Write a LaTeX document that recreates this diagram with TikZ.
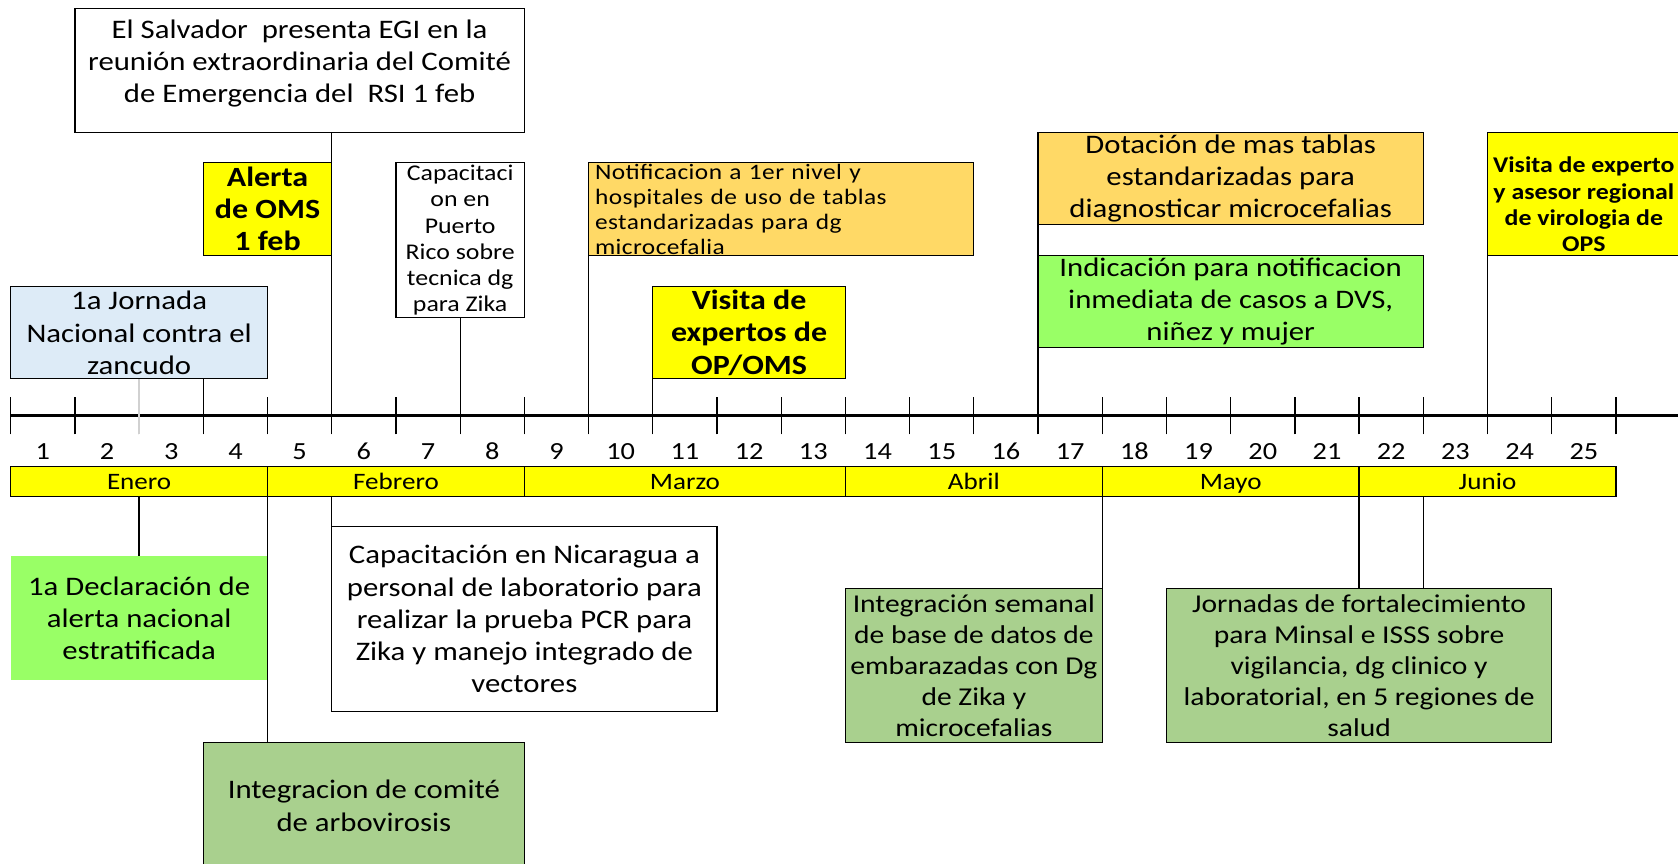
\documentclass[tikz,border=0pt]{standalone}
\usepackage{fontspec}
\setmainfont{Carlito}[FakeStretch=1.15]
\newfontfamily\notefamily{Carlito}[FakeStretch=1.15, LetterSpace=2.0]
\definecolor{yel}{HTML}{FFFF00}
\definecolor{org}{HTML}{FFD966}
\definecolor{lblue}{HTML}{DDEBF7}
\definecolor{lgreen}{HTML}{99FF66}
\definecolor{ogreen}{HTML}{A9D08E}
\newcommand\fbig{\fontsize{12.5}{15}\selectfont}
\newcommand\fbold{\fontsize{13}{15}\selectfont\bfseries}
\newcommand\fsbold{\fontsize{10.5}{12.25}\selectfont\bfseries}
\newcommand\fsm{\fontsize{10.5}{12.25}\selectfont}
\newcommand\fnote{\notefamily\fontsize{10.3}{11.65}\selectfont}
\newcommand\fmid{\fontsize{12}{14.5}\selectfont}
\newcommand\fnum{\fontsize{11.5}{13}\selectfont}
\newcommand\fmonth{\fontsize{11}{13}\selectfont}
\begin{document}
\begin{tikzpicture}[x=0.5pt,y=-0.5pt,
  bx/.style n args={2}{minimum width=#1*0.5pt, minimum height=#2*0.5pt},
  box/.style={draw=black, line width=0.6pt, inner sep=0pt, align=center},
  conn/.style={draw=black, line width=0.6pt},
  tick/.style={draw=black, line width=0.6pt},
  txt/.style={inner sep=0pt, align=center},
  month/.style={box, fill=yel, font=\fmonth, text height=1.8ex, text depth=0.2ex}]
\useasboundingbox (0,0) rectangle (1568,807);
\clip (0,0) rectangle (1568,807);

% axis coordinates
\foreach \k in {0,...,25} {
  \coordinate (t\k) at (10+60*\k,388);
  \coordinate (b\k) at (10+60*\k,464);
}
\coordinate (axend) at (1568,388);

% top boxes
\node[box, fill=white, bx={420}{116}] (salv) at (280,66) {};
\node[txt, font=\fbig] (salvt) at (280,59) {El Salvador \ presenta EGI en la\\reunión extraordinaria del Comité\\de Emergencia del \ RSI 1 feb};
\node[box, fill=yel, bx={120}{87}, font=\fbold] (alerta) at (250,195.5) {Alerta\\de OMS\\1 feb};
\node[box, fill=white, bx={120}{145}, font=\fsm] (prico) at (430,224.5) {Capacitaci\\on en\\Puerto\\Rico sobre\\tecnica dg\\para Zika};
\node[box, fill=lblue, bx={240}{86}, font=\fbig] (jorn1) at (130,311) {1a Jornada\\Nacional contra el\\zancudo};
\node[box, fill=org, bx={360}{87}, font=\fnote, align=left, text width=174pt, inner xsep=3pt] (notif) at (730,195.5) {Notificacion a 1er nivel y\\hospitales de uso de tablas\\estandarizadas para dg\\microcefalia};
\node[box, fill=yel, bx={180}{86}, font=\fbold] (visop) at (700,311) {Visita de\\expertos de\\OP/OMS};
\node[box, fill=org, bx={360}{86}, font=\fbig] (dota) at (1150,167) {Dotación de mas tablas\\estandarizadas para\\diagnosticar microcefalias};
\node[box, fill=lgreen, bx={360}{86}, font=\fbig] (indic) at (1150,282) {Indicación para notificacion\\inmediata de casos a DVS,\\niñez y mujer};
\node[box, fill=yel, bx={200}{115}] (visops) at (1490,181.5) {};
\node[txt, font=\fsbold] (visopst) at (1480,191) {Visita de experto\\y asesor regional\\de virologia de\\OPS};

% axis
\draw[line width=1.3pt] (t0) -- (axend);
\foreach \k in {0,...,25} {
  \draw[tick] ([yshift=-9pt]t\k) -- ([yshift=8.5pt]t\k);
}
\foreach \k in {1,...,25} {
  \node[txt, font=\fnum] (n\k) at (-20+60*\k,422) {\k};
}

% months
\node[month, bx={240}{28}] (m1) at (130,450) {Enero};
\node[month, bx={240}{28}] (m2) at (370,450) {Febrero};
\node[month, bx={300}{28}] (m3) at (640,450) {Marzo};
\node[month, bx={240}{28}] (m4) at (910,450) {Abril};
\node[month, bx={240}{28}] (m5) at (1150,450) {Mayo};
\node[month, bx={240}{28}] (m6) at (1390,450) {Junio};

% bottom boxes
\node[inner sep=0pt, fill=lgreen, bx={240}{115}, align=center, font=\fbig] (decl) at (130,577.5) {1a Declaración de\\alerta nacional\\estratificada};
\node[box, fill=white, bx={360}{173}, font=\fbig] (nica) at (490,578.5) {Capacitación en Nicaragua a\\personal de laboratorio para\\realizar la prueba PCR para\\Zika y manejo integrado de\\vectores};
\node[box, fill=ogreen, bx={300}{118}, font=\fbig] (comite) at (340,753) {Integracion de comité\\de arbovirosis};
\node[box, fill=ogreen, bx={240}{144}, font=\fmid] (seman) at (910,622) {Integración semanal\\de base de datos de\\embarazadas con Dg\\de Zika y\\microcefalias};
\node[box, fill=ogreen, bx={360}{144}, font=\fmid] (jornf) at (1270,622) {Jornadas de fortalecimiento\\para Minsal e ISSS sobre\\vigilancia, dg clinico y\\laboratorial, en 5 regiones de\\salud};

% connectors top
\draw[conn] (salv.south -| t5) -- (t5);
\draw[conn] (prico.south -| t7) -- (t7);
\draw[conn] (jorn1.south -| t3) -- (t3);
\draw[draw=black!18, line width=0.6pt] (jorn1.south -| t2) -- ([yshift=-9pt]t2);
\draw[conn] (notif.south -| t9) -- (t9);
\draw[conn] (visop.south -| t10) -- (t10);
\draw[conn] (dota.south -| t16) -- (indic.north -| t16);
\draw[conn] (indic.south -| t16) -- (t16);
\draw[conn] (visops.south -| t23) -- (t23);

% connectors bottom
\draw[conn] (b2) -- (decl.north -| b2);
\draw[conn] (b5) -- (nica.north -| b5);
\draw[conn] (b4) -- (comite.north -| b4);
\draw[conn] (b17) -- (seman.north -| b17);
\draw[conn] (b21) -- (jornf.north -| b21);
\draw[conn] (b22) -- (jornf.north -| b22);
\end{tikzpicture}
\end{document}
